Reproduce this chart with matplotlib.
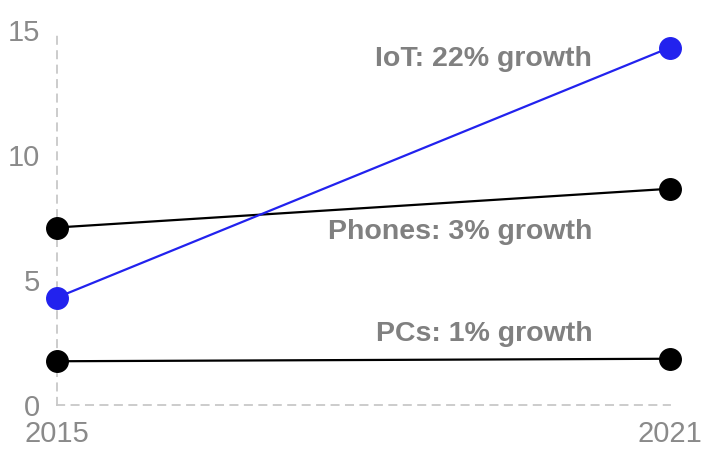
import matplotlib
matplotlib.use("Agg")
import matplotlib.pyplot as plt

years = [2015, 2021]
iot = [4.3, 14.3]
phones = [7.1, 8.65]
pcs = [1.75, 1.85]
labels = ["IoT: 22% growth", "Phones: 3% growth", "PCs: 1% growth"]
label_y = [13.85, 6.92, 2.85]
yticks = [0, 5, 10, 15]

plt.rcParams['font.family'] = ['Liberation Sans', 'DejaVu Sans']
fig = plt.figure(figsize=(7.1, 4.54), dpi=100)
ax = fig.add_axes([57/710, 49/454, 613/710, 375/454])

ax.plot(years, phones, color='black', lw=1.6, marker='o', ms=15.5, clip_on=False, zorder=3)
ax.plot(years, pcs, color='black', lw=1.6, marker='o', ms=15.5, clip_on=False, zorder=3)
ax.plot(years, iot, color='#2222ee', lw=1.6, marker='o', ms=15.5, clip_on=False, zorder=4)

for t, yv in zip(labels, label_y):
    ax.text(2020.24, yv, t, ha='right', va='center', fontsize=20.5, fontweight='bold', color='#808080')

ax.set_xlim(2015, 2021)
ax.set_ylim(0, 15)
ax.set_xticks(years)
ax.set_yticks(yticks)
ax.tick_params(length=0, labelsize=21, labelcolor='#8a8a8a')
ax.tick_params(axis='y', pad=12)
ax.tick_params(axis='x', pad=11)
for s in ['top', 'right']:
    ax.spines[s].set_visible(False)
for s in ['left', 'bottom']:
    ax.spines[s].set_linestyle((0, (4, 4)))
    ax.spines[s].set_color('#c8c8c8')
    ax.spines[s].set_linewidth(1.3)

fig.savefig('out.png', dpi=100)
